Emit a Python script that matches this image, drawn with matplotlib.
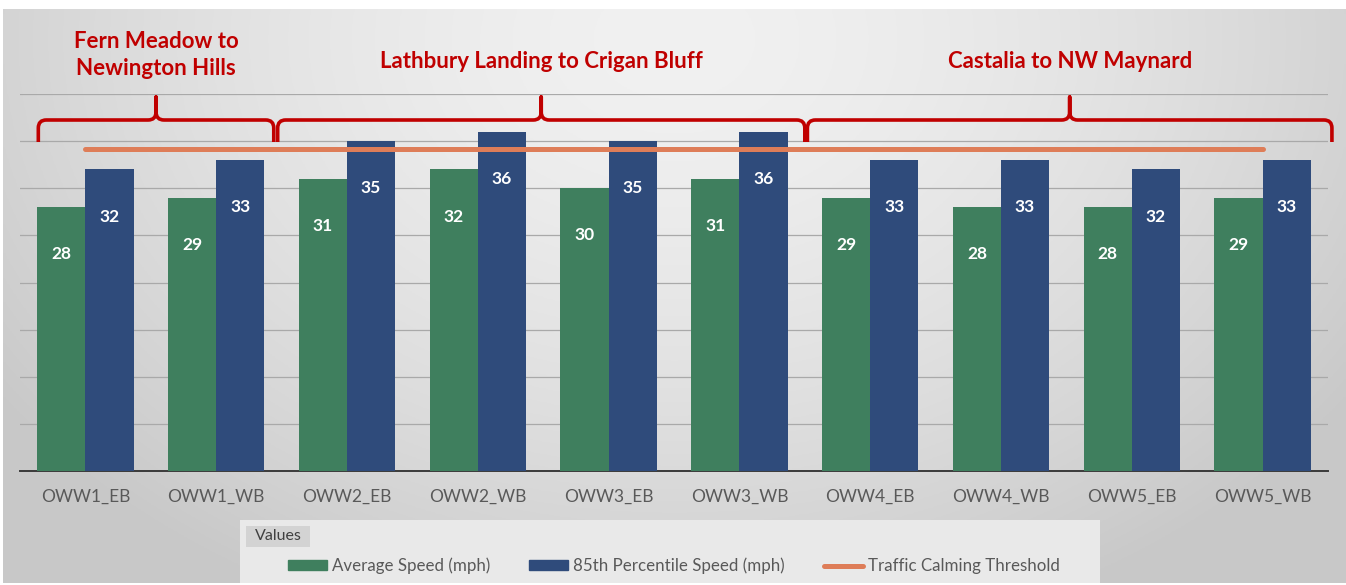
#!/usr/bin/env python3

import numpy as np
import matplotlib
matplotlib.use('Agg')
import matplotlib.pyplot as plt
from matplotlib.path import Path
from matplotlib.patches import PathPatch, Rectangle
from matplotlib.lines import Line2D
from matplotlib.transforms import IdentityTransform


segments = ['OWW1_EB', 'OWW1_WB', 'OWW2_EB', 'OWW2_WB', 'OWW3_EB',
            'OWW3_WB', 'OWW4_EB', 'OWW4_WB', 'OWW5_EB', 'OWW5_WB']
avg_speed = [28, 29, 31, 32, 30, 31, 29, 28, 28, 29]
p85_speed = [32, 33, 35, 36, 35, 36, 33, 33, 32, 33]
threshold = 34.2

corridors = ['Fern Meadow to\nNewington Hills',
             'Lathbury Landing to Crigan Bluff',
             'Castalia to NW Maynard']
# span of each brace, in category units
corridor_spans = [(-0.36, 1.44), (1.47, 5.50), (5.52, 9.53)]

GREEN = '#3F7F5E'
BLUE = '#2F4B7B'
ORANGE = '#DE7D58'
RED = '#C00000'
GREY_TXT = '#595959'

W, H, DPI = 1346, 585, 100


def brace_path(xl, xr, yh, drop=22, rise=23, r=8):
    xc = (xl + xr) / 2
    verts = [(xl, yh - drop), (xl, yh - r), (xl, yh), (xl + r, yh),
             (xc - r, yh), (xc, yh), (xc, yh + r), (xc, yh + rise),
             (xc, yh + r), (xc, yh), (xc + r, yh),
             (xr - r, yh), (xr, yh), (xr, yh - r), (xr, yh - drop)]
    codes = [Path.MOVETO, Path.LINETO, Path.CURVE3, Path.CURVE3,
             Path.LINETO, Path.CURVE3, Path.CURVE3, Path.LINETO,
             Path.LINETO, Path.CURVE3, Path.CURVE3,
             Path.LINETO, Path.CURVE3, Path.CURVE3, Path.LINETO]
    return Path(verts, codes)


def main():
    plt.rcParams['font.family'] = ['Lato', 'DejaVu Sans']

    fig = plt.figure(figsize=(W / DPI, H / DPI), dpi=DPI)
    fig.patch.set_facecolor('white')

    # gradient background
    bg = fig.add_axes([3 / W, 2 / H, 1 - 3 / W, (H - 11) / H])
    yy, xx = np.mgrid[0:1:200j, 0:1:400j]
    d = np.sqrt(((xx - 0.5) / 0.62) ** 2 + ((yy - 0.05) / 1.1) ** 2)
    shade = 0.945 - 0.16 * np.clip(d, 0, 1) ** 1.6
    bg.imshow(np.dstack([shade] * 3), aspect='auto', extent=(0, 1, 1, 0))
    bg.set_axis_off()

    ax = fig.add_axes([20 / W, 114 / H, 1308 / W, 377 / H])
    ax.set_facecolor('none')

    x = np.arange(len(segments))
    bw = 0.368
    b1 = ax.bar(x - bw / 2, avg_speed, bw, color=GREEN, zorder=3,
                label='Average Speed (mph)')
    b2 = ax.bar(x + bw / 2, p85_speed, bw, color=BLUE, zorder=3,
                label='85th Percentile Speed (mph)')
    ax.plot([x[0], x[-1]], [threshold, threshold], color=ORANGE, lw=3.6,
            solid_capstyle='round', zorder=4,
            label='Traffic Calming Threshold')

    for bars, vals in ((b1, avg_speed), (b2, p85_speed)):
        for rect, v in zip(bars, vals):
            ax.annotate(str(v), (rect.get_x() + rect.get_width() / 2, v),
                        xytext=(0, -34), textcoords='offset points',
                        ha='center', va='center', color='white',
                        fontsize=12.5, fontweight='bold', zorder=5)

    ax.set_xlim(-0.5, len(segments) - 0.5)
    ax.set_ylim(0, 40)
    ax.set_yticks(np.arange(5, 41, 5))
    ax.yaxis.grid(True, color='#A9A9A9', lw=0.9)
    ax.set_axisbelow(True)
    ax.tick_params(axis='y', left=False, labelleft=False)
    ax.tick_params(axis='x', bottom=False, pad=9, labelsize=12.5,
                   labelcolor=GREY_TXT)
    ax.set_xticks(x)
    ax.set_xticklabels(segments)
    for s in ('top', 'left', 'right'):
        ax.spines[s].set_visible(False)
    ax.spines['bottom'].set_color('#3A3A3A')
    ax.spines['bottom'].set_linewidth(1.4)

    # corridor braces and titles
    fig.canvas.draw()
    for name, (lo, hi) in zip(corridors, corridor_spans):
        xl = ax.transData.transform((lo, 0))[0]
        xr = ax.transData.transform((hi, 0))[0]
        yh = H - 120
        fig.patches.append(PathPatch(brace_path(xl, xr, yh), fill=False,
                                     ec=RED, lw=2.6, capstyle='butt',
                                     joinstyle='round',
                                     transform=IdentityTransform(),
                                     figure=fig))
        xc = (xl + xr) / 2
        ytxt = H - 55 if '\n' in name else H - 62
        fig.text(xc / W, ytxt / H, name, ha='center', va='center',
                 color=RED, fontsize=16, fontweight='bold',
                 linespacing=1.35)

    # legend area
    fig.patches.append(Rectangle((240 / W, 2 / H), 860 / W, 63 / H,
                                 transform=fig.transFigure, fc='#E9E9E9',
                                 ec='none', figure=fig, zorder=0))
    fig.patches.append(Rectangle((246 / W, 38 / H), 64 / W, 21 / H,
                                 transform=fig.transFigure, fc='#D3D3D3',
                                 ec='none', figure=fig, zorder=1))
    fig.text(278 / W, 48.5 / H, 'Values', ha='center', va='center',
             fontsize=11.5, color='#404040')

    handles = [Rectangle((0, 0), 1, 1, color=GREEN),
               Rectangle((0, 0), 1, 1, color=BLUE),
               Line2D([], [], color=ORANGE, lw=3.6, solid_capstyle='round')]
    labels = ['Average Speed (mph)', '85th Percentile Speed (mph)',
              'Traffic Calming Threshold']
    fig.legend(handles, labels, ncol=3, loc='center left',
               bbox_to_anchor=(288 / W, 19 / H), frameon=False,
               fontsize=12.2, labelcolor=GREY_TXT, handlelength=2.3,
               handleheight=0.5, handletextpad=0.3, columnspacing=2.3,
               borderaxespad=0, borderpad=0)

    fig.savefig('out.png', dpi=DPI)


if __name__ == '__main__':
    main()
